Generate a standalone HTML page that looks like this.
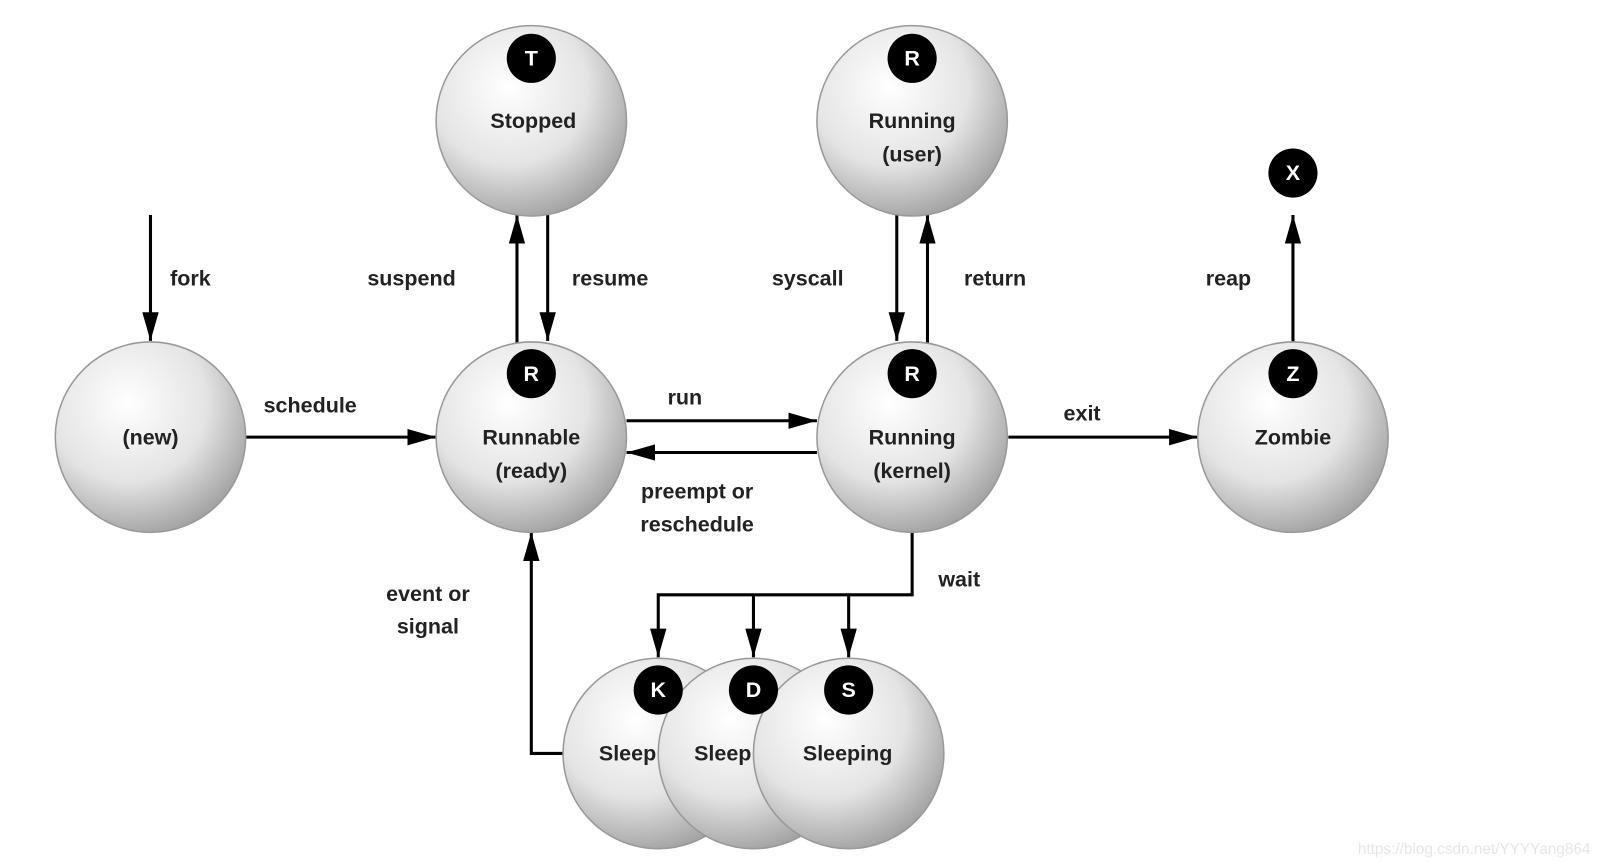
<!DOCTYPE html>
<html><head><style>body{margin:0;background:#fff}svg{display:block}text{font-family:"Liberation Sans",sans-serif;font-weight:bold;font-size:21px;fill:#222}</style></head><body>
<svg width="1597" height="862" viewBox="0 0 1560 842">
<defs>
<radialGradient id="g" cx="0.38" cy="0.32" r="0.75"><stop offset="0" stop-color="#ffffff"/><stop offset="0.55" stop-color="#e4e4e4"/><stop offset="1" stop-color="#9a9a9a"/></radialGradient>
<marker id="b" markerWidth="28" markerHeight="16" refX="28" refY="8" orient="auto" markerUnits="userSpaceOnUse"><path d="M0,0L28,8L0,16z" fill="#000"/></marker>
</defs>
<g stroke="#000" stroke-width="3" fill="none" marker-end="url(#b)">
<path d="M147,210V333"/>
<path d="M240,427H426"/>
<path d="M612,411H798"/>
<path d="M798,442H612"/>
<path d="M505,335V210"/>
<path d="M535,210V333"/>
<path d="M876,210V333"/>
<path d="M906,335V210"/>
<path d="M985,427H1170"/>
<path d="M1263,335V210"/>
<path d="M891,520V581H643V642"/>
<path d="M736,581V642"/>
<path d="M829,581V642"/>
<path d="M552,736H519V520"/>
</g>
<g stroke="#999" stroke-width="1.5" fill="url(#g)">
<circle cx="147" cy="427" r="93"/><circle cx="519" cy="427" r="93"/><circle cx="891" cy="427" r="93"/><circle cx="1263" cy="427" r="93"/>
<circle cx="519" cy="118" r="93"/><circle cx="891" cy="118" r="93"/>
<circle cx="643" cy="736" r="93"/><circle cx="736" cy="736" r="93"/><circle cx="829" cy="736" r="93"/>
</g>
<g fill="#000">
<circle cx="519" cy="57" r="24"/><circle cx="891" cy="57" r="24"/><circle cx="519" cy="365" r="24"/><circle cx="891" cy="365" r="24"/><circle cx="1263" cy="365" r="24"/><circle cx="1263" cy="169" r="24"/><circle cx="643" cy="674" r="24"/><circle cx="736" cy="674" r="24"/><circle cx="829" cy="674" r="24"/>
</g>
<g text-anchor="middle">
<text x="519" y="64" style="fill:#fff">T</text><text x="891" y="64" style="fill:#fff">R</text><text x="519" y="372" style="fill:#fff">R</text><text x="891" y="372" style="fill:#fff">R</text><text x="1263" y="372" style="fill:#fff">Z</text><text x="1263" y="176" style="fill:#fff">X</text><text x="643" y="681" style="fill:#fff">K</text><text x="736" y="681" style="fill:#fff">D</text><text x="829" y="681" style="fill:#fff">S</text>
</g>
<g text-anchor="middle">
<text x="147" y="434">(new)</text>
<text x="519" y="434">Runnable</text><text x="519" y="467">(ready)</text>
<text x="891" y="434">Running</text><text x="891" y="467">(kernel)</text>
<text x="1263" y="434">Zombie</text>
<text x="521" y="125">Stopped</text>
<text x="891" y="125">Running</text><text x="891" y="158">(user)</text>
<text x="613" y="743">Sleep</text><text x="706" y="743">Sleep</text><text x="828" y="743">Sleeping</text>
<text x="186" y="279">fork</text><text x="402" y="279">suspend</text><text x="596" y="279">resume</text><text x="789" y="279">syscall</text><text x="972" y="279">return</text><text x="1200" y="279">reap</text>
<text x="303" y="403">schedule</text><text x="669" y="395">run</text><text x="1057" y="411">exit</text>
<text x="681" y="487">preempt or</text><text x="681" y="519">reschedule</text>
<text x="937" y="573">wait</text>
<text x="418" y="587">event or</text><text x="418" y="619">signal</text>
</g>
<text x="1440" y="834" text-anchor="middle" style="font-weight:normal;font-size:15px;fill:#e6e6e6">https://blog.csdn.net/YYYYang864</text>
</svg>
</body></html>
